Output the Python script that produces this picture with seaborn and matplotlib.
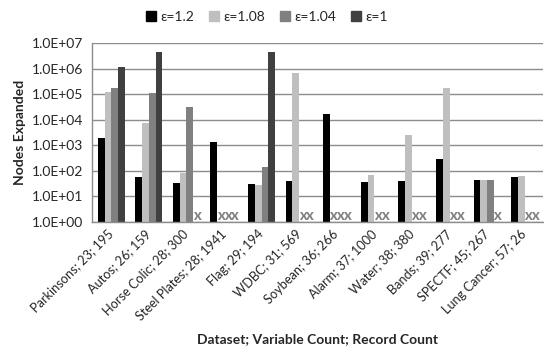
import numpy as np
import pandas as pd
import seaborn as sns
import matplotlib
matplotlib.use("Agg")
import matplotlib.pyplot as plt
from matplotlib.lines import Line2D
from matplotlib.ticker import FixedLocator, FuncFormatter, NullLocator

datasets = ["Parkinsons; 23; 195", "Autos; 26; 159", "Horse Colic; 28; 300",
            "Steel Plates; 28; 1941", "Flag; 29; 194", "WDBC; 31; 569",
            "Soybean; 36; 266", "Alarm; 37; 1000", "Water; 38; 380",
            "Bands; 39; 277", "SPECTF; 45; 267", "Lung Cancer; 57; 26"]
series = ["ε=1.2", "ε=1.08", "ε=1.04", "ε=1"]
nan = np.nan
eps_1_2 = [1900, 56, 33, 1300, 30, 40, 16700, 38, 40, 290, 44, 57]
eps_1_08 = [125000, 7600, 85, nan, 28, 650000, nan, 67, 2500, 180000, 44, 63]
eps_1_04 = [170000, 107000, 31000, nan, 145, nan, nan, nan, nan, nan, 44, nan]
eps_1 = [1100000, 4600000, nan, nan, 4300000, nan, nan, nan, nan, nan, nan, nan]
colors = ["#000000", "#bfbfbf", "#808080", "#404040"]
yticks = [1e0, 1e1, 1e2, 1e3, 1e4, 1e5, 1e6, 1e7]

values = [eps_1_2, eps_1_08, eps_1_04, eps_1]
rows = []
for s, vals in zip(series, values):
    for d, v in zip(datasets, vals):
        rows.append({"dataset": d, "eps": s, "value": v})
df = pd.DataFrame(rows)

sns.set_style("white")
plt.rcParams["font.family"] = ["Lato", "DejaVu Sans"]
fs = 10

fig = plt.figure(figsize=(5.44, 3.61), dpi=100)
ax = fig.add_axes([0.170, 0.385, 0.829, 0.496])
ax.set_yscale("log")

width = 0.72
sns.barplot(data=df.dropna(), x="dataset", y="value", hue="eps",
            order=datasets, hue_order=series, palette=colors,
            saturation=1, width=width, linewidth=0, errorbar=None,
            legend=False, ax=ax)

# gray X marks for missing values
n = len(series)
for j, vals in enumerate(values):
    for i, v in enumerate(vals):
        if np.isnan(v):
            xc = i + (j - (n - 1) / 2) * width / n
            ax.text(xc, 1.0, "X", ha="center", va="bottom", color="#7f7f7f",
                    fontsize=8, fontweight="heavy")

ax.set_ylim(1, 1e7)
ax.set_xlim(-0.5, len(datasets) - 0.5)
ax.yaxis.set_major_locator(FixedLocator(yticks))
ax.yaxis.set_minor_locator(NullLocator())
ax.yaxis.set_major_formatter(FuncFormatter(lambda v, p: f"{v:.1E}"))
ax.grid(axis="y", color="#8c8c8c", linewidth=1)
ax.set_axisbelow(True)
for s in ["top", "right"]:
    ax.spines[s].set_visible(False)
for s in ["left", "bottom"]:
    ax.spines[s].set_color("#8c8c8c")
    ax.spines[s].set_linewidth(1)

# x ticks at group boundaries, labels at centers
ax.set_xticks(np.arange(len(datasets) + 1) - 0.5, minor=False)
ax.set_xticklabels([])
ax.set_xticks(np.arange(len(datasets)), minor=True)
ax.set_xticklabels(datasets, minor=True, rotation=45, ha="right", va="center",
                   rotation_mode="anchor", fontsize=9.2)
ax.tick_params(axis="x", which="major", direction="out", length=4, color="#8c8c8c", width=1)
ax.tick_params(axis="x", which="minor", length=0, pad=7)
ax.tick_params(axis="y", direction="out", length=4, color="#8c8c8c", width=1,
               labelsize=fs, pad=3)
ax.set_xlabel("Dataset; Variable Count; Record Count", fontsize=fs,
              fontweight="bold", labelpad=8)
ax.set_ylabel("Nodes Expanded", fontsize=fs, fontweight="bold", labelpad=4)

handles = [Line2D([], [], marker="s", linestyle="", markersize=7,
                  markerfacecolor=c, markeredgecolor=c) for c in colors]
fig.legend(handles, series, loc="center", bbox_to_anchor=(0.49, 0.953),
           ncol=4, frameon=False, fontsize=fs, handlelength=0.8,
           handletextpad=0.3, columnspacing=1.0)

fig.savefig("out.png", dpi=100)
